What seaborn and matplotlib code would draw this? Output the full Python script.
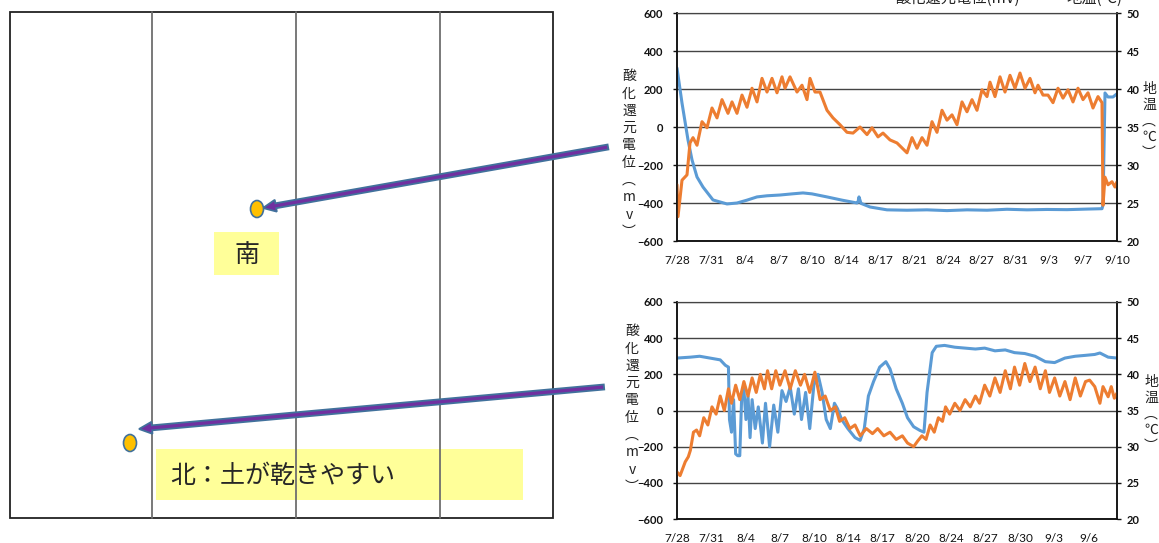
import numpy as np
import pandas as pd
import seaborn as sns
import matplotlib.pyplot as plt
from matplotlib.patches import Rectangle, Ellipse, FancyArrow

# ---- data: top chart (south point) ----
top_dates = ["7/28", "7/31", "8/4", "8/7", "8/10", "8/14", "8/17", "8/21",
             "8/24", "8/27", "8/31", "9/3", "9/7", "9/10"]
top_orp_day = [0.0, 0.5, 1.1, 1.5, 2.0, 2.6, 3.6, 5.0, 6.0, 7.0, 8.0, 9.0, 10.3,
               11.5, 12.6, 13.5, 15.0, 16.5, 18.0, 18.1, 18.2, 18.4, 19.3, 21.0,
               23.0, 25.0, 27.0, 29.0, 31.0, 33.0, 35.0, 37.0, 39.0, 41.0, 42.5,
               42.6, 42.8, 43.1, 43.6, 44.0]
top_orp = [310, 126, -68, -173, -263, -316, -384, -405, -400, -385, -368, -362,
           -358, -352, -347, -352, -368, -385, -400, -395, -368, -402, -421, -436,
           -438, -436, -440, -436, -438, -433, -436, -434, -435, -432, -430,
           -410, 179, 158, 158, 175]
top_temp_day = [0.0, 0.1, 0.5, 1.0, 1.3, 1.6, 2.0, 2.5, 3.0, 3.5, 4.0, 4.5, 5.1,
                5.5, 6.0, 6.5, 7.0, 7.5, 8.0, 8.5, 9.0, 9.5, 10.0, 10.5, 10.8,
                11.3, 12.0, 12.5, 13.0, 13.3, 13.8, 14.3, 15.0, 15.6, 16.3, 17.0,
                17.6, 18.3, 19.0, 19.5, 20.1, 20.6, 21.3, 22.0, 23.0, 23.5, 24.0,
                24.5, 25.0, 25.5, 26.0, 26.5, 27.0, 27.5, 28.0, 28.5, 29.0, 29.5,
                30.0, 30.5, 31.0, 31.3, 31.8, 32.3, 32.8, 33.3, 33.8, 34.3, 34.8,
                35.3, 35.8, 36.1, 36.6, 37.1, 37.6, 38.1, 38.6, 39.1, 39.6, 40.1,
                40.6, 41.1, 41.6, 42.1, 42.5, 42.6, 42.8, 43.1, 43.5, 43.8, 44.0]
top_temp = [27.4, 23.2, 28.0, 28.7, 32.9, 33.6, 32.6, 35.7, 34.9, 37.5, 36.2,
            38.6, 36.8, 38.3, 36.8, 39.2, 37.6, 40.1, 38.3, 41.4, 39.6, 41.4,
            39.5, 41.6, 40.1, 41.6, 39.6, 40.5, 38.6, 41.4, 39.6, 39.6, 37.2,
            36.2, 35.3, 34.3, 34.2, 35.0, 34.0, 34.9, 33.7, 34.2, 33.3, 32.9,
            31.6, 33.6, 32.2, 33.6, 32.6, 35.7, 34.3, 37.2, 35.9, 36.6, 35.3,
            38.3, 37.0, 38.6, 37.2, 39.9, 39.0, 40.9, 39.0, 41.6, 39.6, 41.8,
            40.1, 42.1, 40.1, 41.4, 39.5, 40.5, 39.2, 39.2, 38.2, 40.1, 38.8,
            39.9, 38.3, 40.1, 38.6, 39.5, 37.5, 39.0, 38.2, 24.7, 28.4, 27.4,
            27.8, 27.1, 27.8]

# ---- data: bottom chart (north point) ----
bot_dates = ["7/28", "7/31", "8/4", "8/7", "8/10", "8/14", "8/17", "8/20",
             "8/24", "8/27", "8/30", "9/3", "9/6"]
bot_orp_day = [0.0, 1.3, 2.2, 3.2, 4.2, 4.7, 5.0, 5.1, 5.3, 5.5, 5.7, 5.9, 6.1,
               6.3, 6.5, 6.7, 6.9, 7.1, 7.3, 7.6, 7.9, 8.3, 8.6, 9.0, 9.4, 9.8,
               10.2, 10.6, 11.0, 11.4, 11.8, 12.1, 12.5, 12.9, 13.3, 13.7, 14.1,
               14.5, 14.9, 15.3, 15.6, 16.0, 16.6, 17.3, 17.8, 18.2, 18.6, 19.1,
               19.7, 20.3, 20.7, 21.3, 21.9, 22.4, 23.0, 23.6, 24.0, 24.3, 24.8,
               25.2, 26.0, 27.0, 28.0, 29.0, 29.9, 30.9, 31.9, 32.8, 33.8, 34.8,
               35.8, 36.7, 37.7, 38.7, 39.7, 40.6, 41.1, 41.9, 42.76]
bot_orp = [290, 295, 300, 290, 280, 250, 240, -50, -120, 60, -240, -250, -250,
           100, 120, -50, 80, -150, 60, -100, 20, -180, 40, -200, 30, -120, 110,
           50, 130, -20, 120, -50, 100, -100, 140, 200, 100, -50, -100, 40, 10,
           -50, -100, -150, -165, -100, 80, 160, 240, 270, 230, 120, 40, -40,
           -90, -110, -120, 100, 320, 355, 360, 350, 345, 340, 345, 330, 335,
           320, 315, 300, 270, 265, 290, 300, 305, 310, 318, 295, 290]
bot_temp_day = [0.0, 0.3, 0.8, 1.1, 1.3, 1.6, 1.9, 2.2, 2.6, 3.0, 3.4, 3.8, 4.2,
                4.6, 5.0, 5.3, 5.7, 6.1, 6.5, 6.9, 7.3, 7.7, 8.1, 8.5, 8.8, 9.2,
                9.6, 10.0, 10.5, 11.0, 11.5, 12.0, 12.4, 12.9, 13.4, 13.9, 14.4,
                14.9, 15.4, 15.8, 16.3, 16.8, 17.3, 17.8, 18.4, 19.0, 19.5, 20.1,
                20.7, 21.3, 21.9, 22.4, 23.0, 23.4, 23.8, 24.2, 24.6, 25.0, 25.4,
                25.8, 26.1, 26.5, 27.0, 27.5, 28.0, 28.5, 29.0, 29.4, 29.9, 30.4,
                30.9, 31.4, 31.9, 32.4, 32.8, 33.3, 33.8, 34.3, 34.8, 35.3, 35.8,
                36.2, 36.7, 37.2, 37.7, 38.2, 38.7, 39.2, 39.7, 40.1, 40.6, 41.1,
                41.4, 41.9, 42.2, 42.5, 42.76]
bot_temp = [26.5, 26.0, 27.9, 28.6, 29.5, 32.0, 32.3, 31.5, 34.0, 33.0, 35.5,
            34.5, 37.0, 35.0, 38.0, 36.0, 38.5, 36.5, 39.0, 37.0, 39.5, 37.5,
            40.0, 38.0, 40.5, 38.0, 40.5, 38.5, 40.5, 38.0, 40.5, 38.5, 40.0,
            37.5, 40.3, 36.5, 37.0, 35.0, 35.5, 33.5, 34.0, 32.5, 33.0, 31.5,
            32.5, 31.8, 32.5, 31.5, 32.0, 31.0, 31.5, 30.5, 30.0, 30.8, 31.5,
            31.0, 33.0, 32.0, 34.0, 33.5, 35.5, 34.5, 36.0, 35.0, 36.5, 35.5,
            37.0, 36.0, 38.5, 37.0, 39.5, 37.5, 40.5, 38.0, 41.0, 38.5, 41.5,
            39.0, 41.0, 38.0, 40.5, 37.5, 39.5, 37.0, 39.0, 36.5, 39.5, 37.0,
            39.0, 39.2, 38.3, 36.0, 38.3, 36.9, 38.3, 36.7, 37.4]

BLUE = "#5B9BD5"
ORANGE = "#ED7D31"

sns.set_style("white")
plt.rcParams['font.family'] = ['Noto Sans CJK JP', 'DejaVu Sans']

W, H = 1159, 543
fig = plt.figure(figsize=(W / 100, H / 100), dpi=100)


def px_rect(x0, y0, x1, y1):
    return [x0 / W, 1 - y1 / H, (x1 - x0) / W, (y1 - y0) / H]


# ---- left field diagram ----
ov = fig.add_axes([0, 0, 1, 1])
ov.set_xlim(0, W)
ov.set_ylim(H, 0)
ov.axis("off")
ov.add_patch(Rectangle((10, 12), 543, 506, fill=False, ec="#222222", lw=1.3))
for xl in [152, 296, 440]:
    ov.plot([xl, xl], [12, 518], color="#6e6e6e", lw=1.3)

ov.add_patch(Rectangle((214, 232), 65, 43, fc="#FFFF99", ec="none"))
ov.text(247, 255, "南", fontsize=18, ha="center", va="center")
ov.add_patch(Rectangle((156, 449), 367, 51, fc="#FFFF99", ec="none"))
ov.text(170, 476, "北：土が乾きやすい", fontsize=18, ha="left", va="center")

for (x0, y0, x1, y1) in [(608, 147, 263, 208), (604, 387, 139, 429)]:
    ov.add_patch(FancyArrow(x0, y0, x1 - x0, y1 - y0, width=5, head_width=12,
                            head_length=13, length_includes_head=True,
                            fc="#7030A0", ec="#41719C", lw=1.3, zorder=5))

for (cx, cy) in [(257, 209), (130, 443)]:
    ov.add_patch(Ellipse((cx, cy), 13, 17, fc="#FFC000", ec="#41719C", lw=1.2,
                         zorder=6))

# legend text that is cut off at the top edge in the reference
fig.text(958 / W, 1 - 3 / H, "酸化還元電位(mV)", fontsize=11, ha="center",
         va="baseline", color="#222222")
fig.text(1094 / W, 1 - 3 / H, "地温(℃)", fontsize=11, ha="center",
         va="baseline", color="#222222")

tick_font = dict(family="Lato", weight="bold", size=8)
vlab = "酸\n化\n還\n元\n電\n位\n︵\nm\nv\n︶"
vlab2 = "地\n温\n︵\n℃\n︶"


def draw_chart(rect, orp_day, orp, temp_day, temp, xmax, nstep, labels,
               left_xy, right_xy):
    ax = fig.add_axes(rect)
    ax.set_facecolor("none")
    ax2 = ax.twinx()
    sns.lineplot(x=orp_day, y=orp, ax=ax, color=BLUE, lw=2.2, sort=False,
                 estimator=None)
    sns.lineplot(x=temp_day, y=temp, ax=ax2, color=ORANGE, lw=2.2, sort=False,
                 estimator=None)
    ax.set_xlim(0, xmax)
    ax.set_ylim(-600, 600)
    ax2.set_ylim(20, 50)
    ax.set_yticks(range(-600, 601, 200))
    ax2.set_yticks(range(20, 51, 5))
    ax.set_xticks([i * nstep for i in range(len(labels))])
    ax.set_xticklabels(labels, family="Lato", size=8.5)
    for t in ax.get_yticklabels():
        t.set_fontproperties(tick_font)
    for t in ax2.get_yticklabels():
        t.set_fontproperties(tick_font)
    ax.yaxis.grid(True, color="#444444", lw=1)
    ax.xaxis.grid(False)
    ax2.grid(False)
    ax.tick_params(axis="y", direction="out", length=3, width=1, pad=7,
                   colors="#111111")
    ax2.tick_params(axis="y", direction="out", length=3, width=1, pad=4,
                    colors="#111111")
    ax.tick_params(axis="x", length=0, pad=10, colors="#111111")
    for a in (ax, ax2):
        for s in ["left", "right", "bottom"]:
            a.spines[s].set_color("#111111")
            a.spines[s].set_linewidth(1.1)
        a.spines["top"].set_color("#444444")
        a.set_xlabel("")
        a.set_ylabel("")
    fig.text(left_xy[0] / W, 1 - left_xy[1] / H, vlab, fontsize=10,
             ha="center", va="center", linespacing=1.3, color="#222222")
    fig.text(right_xy[0] / W, 1 - right_xy[1] / H, vlab2, fontsize=10,
             ha="center", va="center", linespacing=1.2, color="#222222")


draw_chart(px_rect(677, 13, 1117, 241), top_orp_day, top_orp, top_temp_day,
           top_temp, 44, 44 / 13, top_dates, (629, 154), (1149, 121))
draw_chart(px_rect(677, 302, 1117, 519), bot_orp_day, bot_orp, bot_temp_day,
           bot_temp, 42.76, 40 / 12, bot_dates, (632, 409), (1151, 414))

fig.savefig("out.png", dpi=100)
